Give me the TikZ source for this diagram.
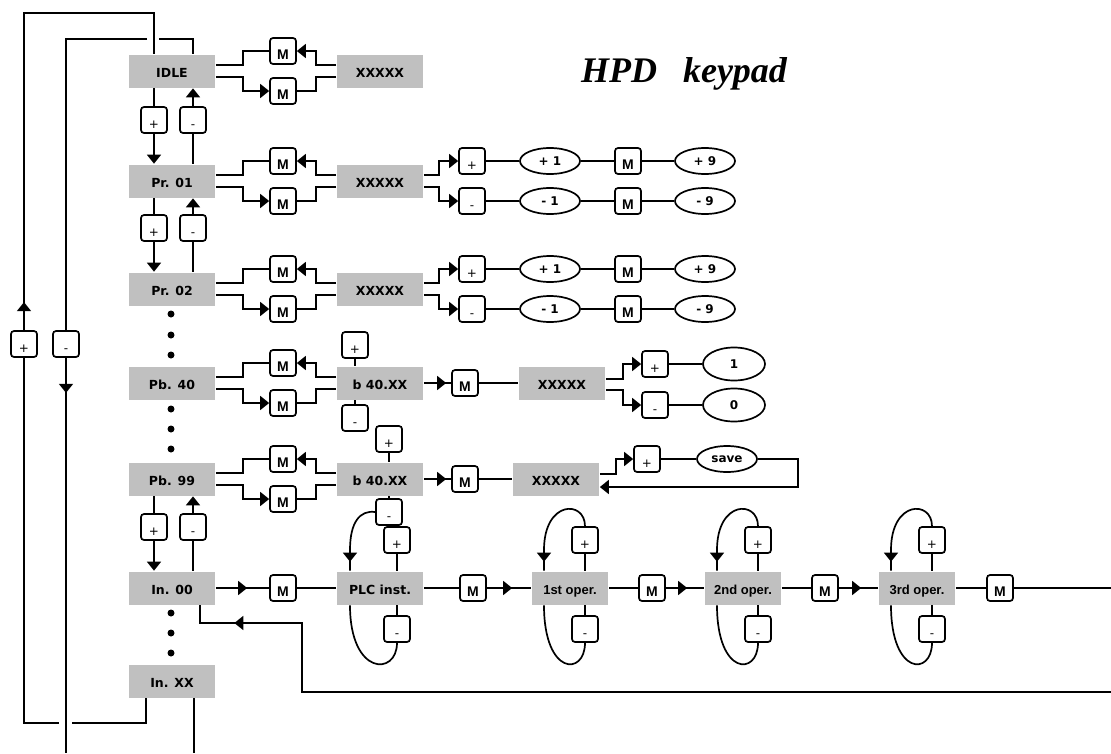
\documentclass[tikz,border=0pt]{standalone}
\usepackage{fontspec}
\setmainfont{DejaVu Sans}
\newfontfamily\arialf{Liberation Sans}
\newfontfamily\timesf{Liberation Serif}
\usetikzlibrary{arrows.meta,decorations.markings,calc,shapes.geometric}
\definecolor{boxgray}{RGB}{192,192,192}
\tikzset{
  gbox/.style={fill=boxgray, minimum width=86pt, minimum height=33pt, inner sep=0pt,
    text height=13pt, text depth=0pt, font=\bfseries\fontsize{12.5}{14}\selectfont},
  obox/.style={gbox, minimum width=76pt, font=\arialf\bfseries\fontsize{13}{14}\selectfont},
  keybox/.style={draw, rounded corners=3pt, minimum width=26pt, minimum height=26pt,
    inner sep=0pt, text height=17pt, text depth=0pt},
  mkey/.style={keybox, font=\arialf\bfseries\fontsize{14}{16}\selectfont},
  pmkey/.style={keybox, font=\fontsize{12}{14}\selectfont},
  oval/.style={ellipse, draw, minimum width=60pt, minimum height=26pt, inner sep=0pt,
    font=\bfseries\fontsize{12}{14}\selectfont},
  bigoval/.style={oval, minimum width=62pt, minimum height=33pt},
  dotn/.style={circle, fill, inner sep=0pt, minimum size=7pt},
  tipend/.style={-{Triangle[length=9pt,width=14pt]}},
  tipat/.style={decoration={markings, mark=at position #1 with {\arrow{Triangle[length=9pt,width=14pt]}}}, postaction={decorate}},
}
\begin{document}
\begin{tikzpicture}[x=1pt,y=-1pt,line width=1.7pt]
\useasboundingbox (0,0) rectangle (1111,753);

% title
\node[font=\timesf\bfseries\itshape\fontsize{36}{40}\selectfont] (title) at (684,74) {HPD\hspace{26pt}keypad};

% left column
\node[gbox] (idle) at (172,71) {IDLE};
\node[gbox] (p01) at (172,181) {Pr. 01};
\node[gbox] (p02) at (172,289) {Pr. 02};
\node[gbox] (pb40) at (172,383) {Pb. 40};
\node[gbox] (pb99) at (172,479) {Pb. 99};
\node[gbox] (in00) at (172,588) {In. 00};
\node[gbox] (inxx) at (172,681) {In. XX};

% second column
\node[gbox] (x0) at (380,71) {XXXXX};
\node[gbox] (x1) at (380,181) {XXXXX};
\node[gbox] (x2) at (380,289) {XXXXX};
\node[gbox] (b40) at (380,383) {b 40.XX};
\node[gbox] (b99) at (380,479) {b 40.XX};
\node[gbox] (plc) at (380,588) {PLC inst.};

% M pairs
\foreach \lf/\rt/\yy in {idle/x0/71, p01/x1/181, p02/x2/289, pb40/b40/383, pb99/b99/479}{
  \node[mkey] (mu\lf) at (283,\yy-20) {M};
  \node[mkey] (md\lf) at (283,\yy+20) {M};
  \draw ([yshift=6pt]\lf.east) -- ++(27,0) |- (mu\lf.west);
  \draw[tipend] ([yshift=6pt]\rt.west) -- ++(-20,0) |- (mu\lf.east);
  \draw[tipend] ([yshift=-6pt]\lf.east) -- ++(27,0) |- (md\lf.west);
  \draw ([yshift=-6pt]\rt.west) -- ++(-20,0) |- (md\lf.east);
}

% vertical +/- keys in left column
\foreach \aa/\bb/\yy in {idle/p01/120, p01/p02/228, pb99/in00/527}{
  \node[pmkey] (kp\aa) at (154,\yy) {+};
  \node[pmkey] (km\aa) at (193,\yy) {-};
  \draw (\aa.south -| kp\aa) -- (kp\aa);
  \draw[tipend] (kp\aa) -- (kp\aa |- \bb.north);
  \draw (\bb.north -| km\aa) -- (km\aa);
  \draw[tipend] (km\aa) -- (km\aa |- \aa.south);
}

% dots
\foreach \yy [count=\ii] in {314,335,355,409,429,449,613,633,653}
  \node[dotn] (dot\ii) at (171,\yy) {};

% +/- branches for Pr rows
\foreach \rt/\yy in {x1/181, x2/289}{
  \node[pmkey] (pk\rt) at (472,\yy-20) {+};
  \node[pmkey] (mk\rt) at (472,\yy+20) {-};
  \draw[tipend] ([yshift=6pt]\rt.east) -- ++(15,0) |- (pk\rt.west);
  \draw[tipend] ([yshift=-6pt]\rt.east) -- ++(15,0) |- (mk\rt.west);
  \node[oval] (po\rt) at (550,\yy-20) {+ 1};
  \node[oval] (mo\rt) at (550,\yy+20) {- 1};
  \node[mkey] (pm\rt) at (628,\yy-20) {M};
  \node[mkey] (mm\rt) at (628,\yy+20) {M};
  \node[oval] (pn\rt) at (705,\yy-20) {+ 9};
  \node[oval] (mn\rt) at (705,\yy+20) {- 9};
  \draw (pk\rt) -- (po\rt) -- (pm\rt) -- (pn\rt);
  \draw (mk\rt) -- (mo\rt) -- (mm\rt) -- (mn\rt);
}

% Pb.40 row
\node[pmkey] (pb40k) at (355,345) {+};
\node[pmkey] (mb40k) at (355,418) {-};
\draw (b40.north -| pb40k) -- (pb40k);
\draw (b40.south -| mb40k) -- (mb40k);
\node[mkey] (m40) at (465,383) {M};
\draw[tipat=-5pt] (b40) -- (m40);
\node[gbox] (xb40) at (562,383) {XXXXX};
\draw (m40) -- (xb40);
\node[pmkey] (pxb40) at (655,364) {+};
\node[pmkey] (mxb40) at (655,405) {-};
\draw[tipend] ([yshift=4pt]xb40.east) -- ++(17,0) |- (pxb40.west);
\draw[tipend] ([yshift=-7pt]xb40.east) -- ++(17,0) |- (mxb40.west);
\node[bigoval] (one) at (734,364) {1};
\node[bigoval] (zero) at (734,405) {0};
\draw (pxb40) -- (one);
\draw (mxb40) -- (zero);

% Pb.99 row
\node[pmkey] (pb99k) at (389,439) {+};
\node[pmkey] (mb99k) at (389,512) {-};
\draw (b99.north -| pb99k) -- (pb99k);
\draw (b99.south -| mb99k) -- (mb99k);
\node[mkey] (m99) at (465,479) {M};
\draw[tipat=-5pt] (b99) -- (m99);
\node[gbox] (xb99) at (556,479) {XXXXX};
\draw (m99) -- (xb99);
\node[pmkey] (pxb99) at (647,459) {+};
\node[oval] (save) at (727,459) {save};
\draw[tipend] ([yshift=5pt]xb99.east) -- ++(16,0) |- (pxb99.west);
\draw (pxb99) -- (save);
\draw[tipend] (save.east) -- ++(40,0) |- ([yshift=-8pt]xb99.east);

% PLC row keys and loops
\node[pmkey] (pplc) at (397,540) {+};
\node[pmkey] (mplc) at (397,629) {-};
\draw (pplc) -- (pplc |- plc.north);
\draw (plc.south -| mplc) -- (mplc);
\draw[tipat=-9pt] (mb99k.west) .. controls (360,510) and (350,522) .. (350,550) -- ($(plc.north)+(-30,0)$);
\draw ($(plc.south)+(-30,0)$) .. controls (350,676) and (397,676) .. (mplc.south);

% operand boxes
\foreach \nm/\cx/\lab in {o1/570/1st, o2/743/2nd, o3/917/3rd}{
  \node[obox] (\nm) at (\cx,588) {\lab\ oper.};
  \node[pmkey] (p\nm) at (\cx+15,540) {+};
  \node[pmkey] (m\nm) at (\cx+15,629) {-};
  \draw (p\nm) -- (p\nm |- \nm.north);
  \draw (\nm.south -| m\nm) -- (m\nm);
  \draw[tipat=-9pt] (p\nm.north) .. controls (\cx+15,500) and (\cx-26,500) .. (\cx-26,550) -- ($(\nm.north)+(-26,0)$);
  \draw ($(\nm.south)+(-26,0)$) .. controls (\cx-26,676) and (\cx+15,676) .. (m\nm.south);
}

% bottom chain
\node[mkey] (mc0) at (283,588) {M};
\draw[tipat=-22pt] (in00) -- (mc0);
\draw (mc0) -- (plc);
\node[mkey] (mc1) at (473,588) {M};
\draw (plc) -- (mc1);
\draw[tipat=-19pt] (mc1) -- (o1);
\node[mkey] (mc2) at (652,588) {M};
\draw (o1) -- (mc2);
\draw[tipat=-17pt] (mc2) -- (o2);
\node[mkey] (mc3) at (825,588) {M};
\draw (o2) -- (mc3);
\draw[tipat=-17pt] (mc3) -- (o3);
\node[mkey] (mc4) at (1000,588) {M};
\draw (o3) -- (mc4);
\coordinate (rend) at (1111,588);
\draw (mc4) -- (rend);
\coordinate (rret) at (1111,692);
\draw[tipat=-52pt] (rret) -- (302,692) -- (302,623) -| ($(in00.south)+(28,0)$);

% outer wrap-around loops
\node[pmkey] (kpl) at (24,344) {+};
\node[pmkey] (kml) at (66,344) {-};
\draw[tipat=28pt] (kpl) -- (24,13) -| ($(idle.north)+(-18,0)$);
\draw (kpl) -- (24,723) -- (59,723);
\draw (72,723) -| ($(inxx.south)+(-26,0)$);
\draw ($(idle.north)+(21,0)$) |- (159,39);
\draw (147,39) -| (kml);
\draw[tipat=35pt] (kml) -- (66,753);
\coordinate (bend) at (194,753);
\draw ($(inxx.south)+(22,0)$) -- (bend);
\end{tikzpicture}
\end{document}
